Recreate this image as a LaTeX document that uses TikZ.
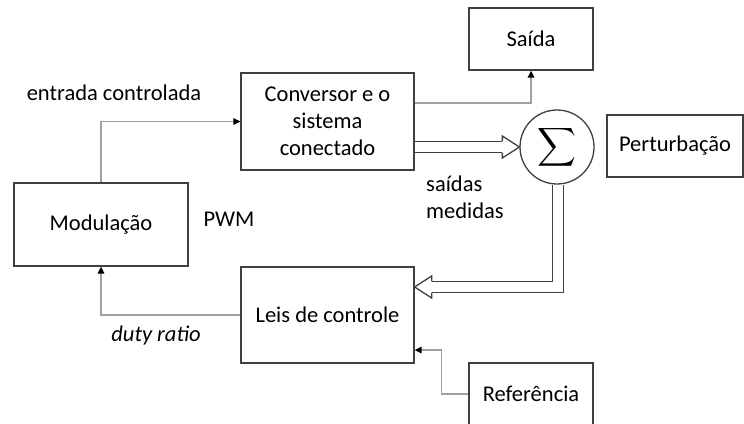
\documentclass[tikz,border=0pt]{standalone}
\usepackage{graphicx}
\usepackage{amsmath}
\usepackage{fontspec}
\setmainfont{Carlito}
\usetikzlibrary{arrows.meta}

\definecolor{boxline}{HTML}{404040}
\definecolor{wireline}{HTML}{A0A0A0}

\begin{document}
\begin{tikzpicture}[x=1pt,y=-1pt,
    block/.style={draw=boxline,line width=1.3pt,inner sep=0pt,align=center,
        font=\fontsize{22.5}{27}\selectfont},
    label/.style={inner sep=0pt,font=\fontsize{22.5}{27}\selectfont},
    wire/.style={draw=wireline,line width=1.4pt,-{Triangle[length=7pt,width=6.5pt,color=black]}},
    bus/.style={draw=boxline,line width=1.3pt,double=white,double distance=10pt},
    bushead/.style={draw=boxline,line width=1.3pt,fill=white}]

    \clip (0,0) rectangle (744,423);

    % Blocks
    \node[block,minimum width=173pt,minimum height=97pt] (conv) at (327.5,121.5) {Conversor e o\\sistema\\conectado};
    \node[block,minimum width=124pt,minimum height=62pt] (saida) at (531,39) {Saída};
    \node[block,circle,minimum size=74pt] (soma) at (557,147) {\scalebox{1.3}{$\displaystyle\sum$}};
    \node[block,minimum width=136pt,minimum height=62pt] (pert) at (675,146) {Perturbação};
    \node[block,minimum width=174pt,minimum height=83pt] (mod) at (101,224.5) {Modulação};
    \node[block,minimum width=173pt,minimum height=96pt] (leis) at (327.5,315) {Leis de controle};
    \node[block,minimum width=124pt,minimum height=62pt] (ref) at (531,394) {Referência};

    % Labels
    \node[label] (entrada) at (114,93) {entrada controlada};
    \node[label] (pwm) at (229,219) {PWM};
    \node[label,font=\fontsize{22.5}{27}\selectfont\itshape] (duty) at (156,335) {duty ratio};
    \node[label,align=left] (medidas) at (465,197) {saídas\\medidas};

    % Signal connectors
    \draw[wire] (mod.north) |- (conv.west);
    \draw[wire] ([yshift=18.5pt]conv.east) -| (saida.south);
    \draw[wire] (leis.west) -| (mod.south);
    \draw[wire] (ref.west) -- ++(-27,0) |- ([yshift=-35pt]leis.east);

    % Measured outputs (double arrows)
    \coordinate (tipsum) at (soma.west);
    \coordinate (tipleis) at ([yshift=28pt]leis.east);
    \draw[bus] (conv.east |- tipsum) -- ([xshift=-17pt]tipsum);
    \draw[bushead] ([xshift=-17pt,yshift=5.6pt]tipsum) -- ([xshift=-17pt,yshift=11pt]tipsum)
        -- (tipsum) -- ([xshift=-17pt,yshift=-11pt]tipsum) -- ([xshift=-17pt,yshift=-5.6pt]tipsum);
    \draw[bus] ([xshift=1pt]soma.south) |- ([xshift=17pt]tipleis);
    \draw[bushead] ([xshift=17pt,yshift=5.6pt]tipleis) -- ([xshift=17pt,yshift=11pt]tipleis)
        -- (tipleis) -- ([xshift=17pt,yshift=-11pt]tipleis) -- ([xshift=17pt,yshift=-5.6pt]tipleis);
\end{tikzpicture}
\end{document}
